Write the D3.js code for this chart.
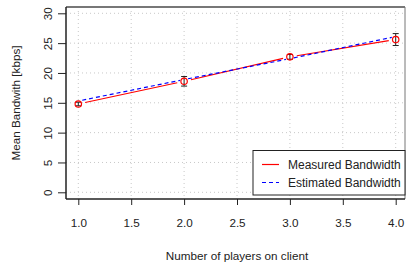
<!DOCTYPE html>
<html>
<head>
<meta charset="utf-8">
<script src="https://cdn.jsdelivr.net/npm/d3@7"></script>
<style>
  body { margin: 0; background: #fff; }
  text { font-family: "Liberation Sans", Arial, sans-serif; fill: #222; }
</style>
</head>
<body>
<svg id="chart" width="406" height="265"></svg>
<script>
// values
var players = [1, 2, 3, 4];
var measured = [14.8, 18.6, 22.7, 25.6];
var measuredErr = [0.3, 0.8, 0.4, 1.0];
var estimated = [15.3, 18.9, 22.4, 26.1];
var xTicks = [1.0, 1.5, 2.0, 2.5, 3.0, 3.5, 4.0];
var yTicks = [0, 5, 10, 15, 20, 25, 30];
var legendLabels = ["Measured Bandwidth", "Estimated Bandwidth"];

var svg = d3.select("#chart");
var fs = "11.7px";

var x = d3.scaleLinear().domain([1, 4]).range([78.3, 395.7]);
var y = d3.scaleLinear().domain([0, 30]).range([192.3, 13.3]);

var box = {left: 66, top: 7, right: 405, bottom: 199};

// grid (dotted)
svg.append("g").selectAll("line").data(xTicks).enter().append("line")
    .attr("x1", function(d){ return x(d); }).attr("x2", function(d){ return x(d); })
    .attr("y1", box.top).attr("y2", box.bottom)
    .attr("stroke", "#c8c8c8").attr("stroke-dasharray", "1,3");
svg.append("g").selectAll("line").data(yTicks).enter().append("line")
    .attr("y1", function(d){ return y(d); }).attr("y2", function(d){ return y(d); })
    .attr("x1", box.left).attr("x2", box.right)
    .attr("stroke", "#c8c8c8").attr("stroke-dasharray", "1,3");

// frame
svg.append("line").attr("x1", box.left).attr("x2", box.right).attr("y1", box.top).attr("y2", box.top)
    .attr("stroke", "#777").attr("stroke-width", 2);
svg.append("line").attr("x1", box.right).attr("x2", box.right).attr("y1", box.top).attr("y2", box.bottom)
    .attr("stroke", "#777").attr("stroke-width", 1);
svg.append("line").attr("x1", box.left).attr("x2", box.left).attr("y1", box.top).attr("y2", box.bottom)
    .attr("stroke", "#222").attr("stroke-width", 1.5);
svg.append("line").attr("x1", box.left).attr("x2", box.right).attr("y1", box.bottom).attr("y2", box.bottom)
    .attr("stroke", "#222").attr("stroke-width", 1.5);

// x axis
var xAxis = d3.axisBottom(x).tickValues(xTicks).tickFormat(d3.format(".1f")).tickSize(6).tickPadding(14);
var gx = svg.append("g").attr("transform", "translate(0," + box.bottom + ")").call(xAxis);
gx.select(".domain").remove();
gx.selectAll("line").attr("stroke", "#222");
gx.selectAll("text").style("font-size", fs).attr("fill", "#222");

// y axis (labels rotated, R style)
var yAxis = d3.axisLeft(y).tickValues(yTicks).tickSize(8).tickPadding(0);
var gy = svg.append("g").attr("transform", "translate(" + box.left + ",0)").call(yAxis);
gy.select(".domain").remove();
gy.selectAll("line").attr("stroke", "#222");
gy.selectAll("text")
    .style("font-size", fs).attr("fill", "#222")
    .attr("x", 0).attr("dy", null)
    .attr("text-anchor", "middle")
    .attr("transform", "translate(-14,0) rotate(-90)");

// axis titles
svg.append("text").attr("x", 237).attr("y", 260).attr("text-anchor", "middle")
    .style("font-size", fs).text("Number of players on client");
svg.append("text").attr("transform", "translate(20," + (box.top + box.bottom) / 2 + ") rotate(-90)")
    .attr("text-anchor", "middle").style("font-size", fs).text("Mean Bandwith [kbps]");

// line segments with gaps at the points
function segments(vals, gap) {
    var out = [];
    for (var i = 0; i < vals.length - 1; i++) {
        var x0 = x(players[i]), y0 = y(vals[i]), x1 = x(players[i + 1]), y1 = y(vals[i + 1]);
        var dx = x1 - x0, dy = y1 - y0, len = Math.sqrt(dx * dx + dy * dy);
        out.push({x1: x0 + dx / len * gap, y1: y0 + dy / len * gap, x2: x1 - dx / len * gap, y2: y1 - dy / len * gap});
    }
    return out;
}

svg.append("g").selectAll("line").data(segments(measured, 7)).enter().append("line")
    .attr("x1", function(d){ return d.x1; }).attr("y1", function(d){ return d.y1; })
    .attr("x2", function(d){ return d.x2; }).attr("y2", function(d){ return d.y2; })
    .attr("stroke", "#ff0000").attr("stroke-width", 1.2);

svg.append("g").selectAll("line").data(segments(estimated, 4)).enter().append("line")
    .attr("x1", function(d){ return d.x1; }).attr("y1", function(d){ return d.y1; })
    .attr("x2", function(d){ return d.x2; }).attr("y2", function(d){ return d.y2; })
    .attr("stroke", "#0000ff").attr("stroke-width", 1.2).attr("stroke-dasharray", "4,3");

// error bars
var eb = svg.append("g").attr("stroke", "#222").attr("stroke-width", 1);
players.forEach(function(p, i){
    var cx = x(p), top = y(measured[i] + measuredErr[i]), bot = y(measured[i] - measuredErr[i]);
    eb.append("line").attr("x1", cx).attr("x2", cx).attr("y1", top).attr("y2", bot);
    eb.append("line").attr("x1", cx - 3).attr("x2", cx + 3).attr("y1", top).attr("y2", top);
    eb.append("line").attr("x1", cx - 3).attr("x2", cx + 3).attr("y1", bot).attr("y2", bot);
});

// measured points
svg.append("g").selectAll("circle").data(players).enter().append("circle")
    .attr("cx", function(d){ return x(d); })
    .attr("cy", function(d, i){ return y(measured[i]); })
    .attr("r", 3.2).attr("fill", "none").attr("stroke", "#ff0000").attr("stroke-width", 1.2);

// legend
var lg = svg.append("g");
lg.append("rect").attr("x", 253).attr("y", 150.5).attr("width", 152).attr("height", 44.5)
    .attr("fill", "#fff").attr("stroke", "#222").attr("stroke-width", 1);
var legendColors = ["#ff0000", "#0000ff"];
var legendDash = [null, "4,3"];
legendLabels.forEach(function(lbl, i){
    var ly = 164.5 + i * 18;
    lg.append("line").attr("x1", 262).attr("x2", 279).attr("y1", ly).attr("y2", ly)
        .attr("stroke", legendColors[i]).attr("stroke-width", 1.2).attr("stroke-dasharray", legendDash[i]);
    lg.append("text").attr("x", 288).attr("y", ly + 4).style("font-size", "12px").text(lbl);
});
</script>
</body>
</html>
